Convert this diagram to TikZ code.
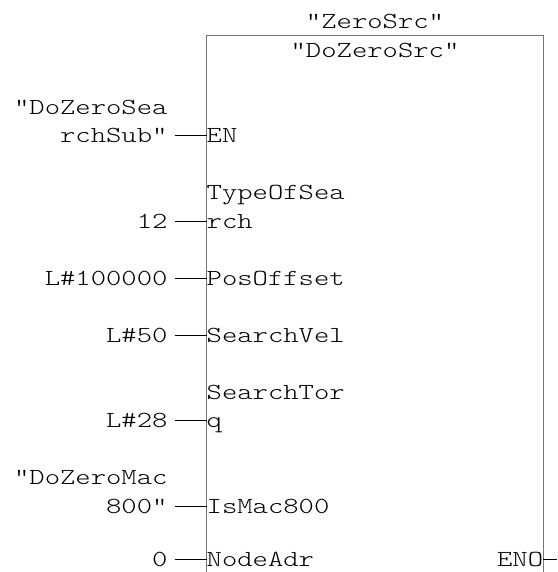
\documentclass[tikz,border=0pt]{standalone}
\usepackage{fontspec}
\setmonofont{lmmonolt10-regular.otf}[FakeStretch=1.27]
\usetikzlibrary{positioning}
\definecolor{fbgray}{RGB}{118,118,118}

\begin{document}
\begin{tikzpicture}[
  x=1pt, y=-1pt,
  fbfont/.style={font=\ttfamily\fontsize{23}{28.5}\selectfont},
  fbblock/.style={draw=fbgray, line width=1.3pt, outer sep=0pt,
    minimum width=336.8pt, minimum height=560pt, inner sep=0pt},
  titlebox/.style={fbfont, inner sep=0pt, anchor=base},
  pinbox/.style={fbfont, inner sep=0pt, align=left},
  valbox/.style={fbfont, inner sep=0pt, outer xsep=7.2pt, align=right,
    anchor=base east},
  wire/.style={draw, line width=1pt},
  pinmid/.style={yshift=7pt},
]
\clip (0,0) rectangle (557,572);

% ===== Function block =====
\node[fbblock, anchor=north west] (fb) at (206.5, 35.7) {};
\node[titlebox] (fbname) at (375, 28.7) {"ZeroSrc"};
\node[titlebox] (fbinst) at (375, 57.2) {"DoZeroSrc"};

% ===== Inputs (pins) =====
\node[pinbox, anchor=base west] (pEN) at (206.5, 142.7) {EN};
\node[pinbox, anchor=base west] (pType) at (206.5, 228.2) {TypeOfSea\\rch};
\node[pinbox, anchor=base west] (pPos) at (206.5, 285.2) {PosOffset};
\node[pinbox, anchor=base west] (pVel) at (206.5, 342.2) {SearchVel};
\node[pinbox, anchor=base west] (pTorq) at (206.5, 427.7) {SearchTor\\q};
\node[pinbox, anchor=base west] (pMac) at (206.5, 513.2) {IsMac800};
\node[pinbox, anchor=base west] (pNode) at (206.5, 566.8) {NodeAdr};

% output
\node[pinbox, anchor=base east] (pENO) at (543.3, 566.8) {ENO};
\coordinate (enoOut) at (557, 559.8);

% ===== Actual values =====
\node[valbox] (vEN) at (174.7, 142.7) {"DoZeroSea\\rchSub"};
\node[valbox] (vType) at (174.7, 228.2) {12};
\node[valbox] (vPos) at (174.7, 285.2) {L\#100000};
\node[valbox] (vVel) at (174.7, 342.2) {L\#50};
\node[valbox] (vTorq) at (174.7, 427.7) {L\#28};
\node[valbox] (vMac) at (174.7, 513.2) {"DoZeroMac\\800"};
\node[valbox] (vNode) at (174.7, 566.8) {0};

% Wires
\draw[wire] ([pinmid]vEN.base east) -- ([pinmid]pEN.base west);
\draw[wire] ([pinmid]vType.base east) -- ([pinmid]pType.base west);
\draw[wire] ([pinmid]vPos.base east) -- ([pinmid]pPos.base west);
\draw[wire] ([pinmid]vVel.base east) -- ([pinmid]pVel.base west);
\draw[wire] ([pinmid]vTorq.base east) -- ([pinmid]pTorq.base west);
\draw[wire] ([pinmid]vMac.base east) -- ([pinmid]pMac.base west);
\draw[wire] ([pinmid]vNode.base east) -- ([pinmid]pNode.base west);
\draw[wire] ([pinmid]pENO.base east) -- (enoOut);

\end{tikzpicture}
\end{document}
